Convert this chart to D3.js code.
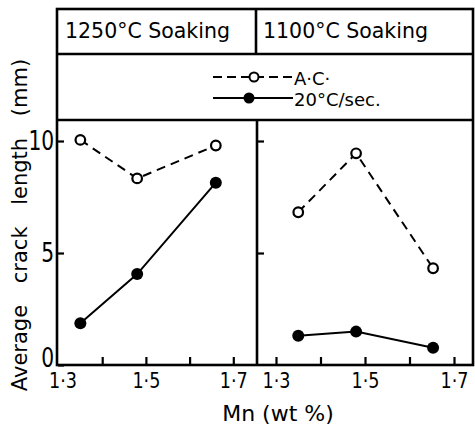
<!DOCTYPE html>
<html>
<head>
<meta charset="utf-8">
<script src="https://cdn.jsdelivr.net/npm/d3@7"></script>
<style>
  body { margin: 0; background: #fff; }
  text { font-family: "DejaVu Sans", sans-serif; fill: #000; }
</style>
</head>
<body>
<div id="chart"></div>
<script>
// values
const panels = ['1250°C Soaking', '1100°C Soaking']
const mn1250 = [1.35, 1.48, 1.66]
const ac1250 = [10.05, 8.33, 9.8]
const fast1250 = [1.86, 4.06, 8.14]
const mn1100 = [1.35, 1.48, 1.653]
const ac1100 = [6.82, 9.45, 4.32]
const fast1100 = [1.31, 1.49, 0.77]
const seriesNames = ['A·C·', '20°C/sec.']
const xTicks = [1.3, 1.4, 1.5, 1.6, 1.7]
const xLabelled = [1.3, 1.5, 1.7]
const yTicks = [0, 5, 10]

const W = 475, H = 425
const mLeft = 57, mid = 257, mRight = 473
const mTop = 9, headBottom = 54, legBottom = 120, mBottom = 365

const svg = d3.select('#chart').append('svg')
  .attr('width', W).attr('height', H)
  .style('background', 'white')

const y = d3.scaleLinear().domain([0, 10]).range([mBottom, 141])
const xL = d3.scaleLinear().domain([1.3, 1.7]).range([58.5, 233.3])
const xR = d3.scaleLinear().domain([1.3, 1.7]).range([276, 454])

const fmt = d => xLabelled.includes(d) ? d3.format('.1f')(d).replace('.', '·') : ''

// frame
const frame = svg.append('g').attr('fill', 'none').attr('stroke', '#000').attr('stroke-width', 2.6)
frame.append('rect').attr('x', mLeft).attr('y', mTop).attr('width', mRight - mLeft).attr('height', mBottom - mTop)
frame.append('line').attr('x1', mLeft).attr('x2', mRight).attr('y1', headBottom).attr('y2', headBottom)
frame.append('line').attr('x1', mLeft).attr('x2', mRight).attr('y1', legBottom).attr('y2', legBottom)
frame.append('line').attr('x1', mid - 1).attr('x2', mid - 1).attr('y1', mTop).attr('y2', headBottom)
frame.append('line').attr('x1', mid).attr('x2', mid).attr('y1', legBottom).attr('y2', mBottom)

// header
svg.append('text').attr('x', 65).attr('y', 38).style('font-size', '20.5px').text(panels[0])
svg.append('text').attr('x', 263).attr('y', 38).style('font-size', '20.5px').text(panels[1])

// legend
const leg = svg.append('g')
leg.append('line').attr('x1', 213).attr('x2', 293).attr('y1', 77).attr('y2', 77)
  .attr('stroke', '#000').attr('stroke-width', 2).attr('stroke-dasharray', '9,5')
leg.append('circle').attr('cx', 254).attr('cy', 77).attr('r', 4.5)
  .attr('fill', 'white').attr('stroke', '#000').attr('stroke-width', 2)
leg.append('text').attr('x', 294).attr('y', 85).style('font-size', '18px').text(seriesNames[0])
leg.append('line').attr('x1', 213).attr('x2', 293).attr('y1', 98).attr('y2', 98)
  .attr('stroke', '#000').attr('stroke-width', 2)
leg.append('circle').attr('cx', 249).attr('cy', 98).attr('r', 5.5).attr('fill', '#000')
leg.append('text').attr('x', 294).attr('y', 106).style('font-size', '18px').text(seriesNames[1])

// axes (tall, narrow digits like the original lettering)
function xAxis(scale) {
  const g = svg.append('g').attr('transform', `translate(0,${mBottom})`)
    .call(d3.axisBottom(scale).tickValues(xTicks).tickSize(-8).tickPadding(7).tickFormat(fmt))
  g.select('.domain').remove()
  g.selectAll('.tick line').attr('stroke', '#000').attr('stroke-width', 2.2)
  g.selectAll('.tick text').style('font-size', '22px').attr('transform', 'scale(0.8,1)')
  return g
}
const gxL = xAxis(xL)
gxL.selectAll('.tick').filter(d => d === 1.3).select('line').remove()
gxL.selectAll('.tick').filter(d => d === 1.3).select('text').attr('x', 5)
xAxis(xR)

const gy = svg.append('g').attr('transform', `translate(${mLeft + 1},0)`)
  .call(d3.axisLeft(y).tickValues(yTicks).tickSize(-6).tickPadding(5))
gy.select('.domain').remove()
gy.selectAll('.tick line').attr('stroke', '#000').attr('stroke-width', 2.2)
gy.selectAll('.tick text').style('font-size', '27px').attr('transform', 'scale(0.75,1)')
gy.selectAll('.tick').filter(d => d === 0).select('text').attr('dy', '0.05em')

const gy2 = svg.append('g').attr('transform', `translate(${mid},0)`)
  .call(d3.axisLeft(y).tickValues([5, 10]).tickSize(-7).tickFormat(''))
gy2.select('.domain').remove()
gy2.selectAll('.tick line').attr('stroke', '#000').attr('stroke-width', 2.2)

// axis titles
svg.append('text').attr('transform', 'translate(27,225) rotate(-90)')
  .attr('text-anchor', 'middle').style('font-size', '21px').style('word-spacing', '15px')
  .text('Average crack length (mm)')
svg.append('text').attr('x', 278).attr('y', 421).attr('text-anchor', 'middle')
  .style('font-size', '22px').text('Mn (wt %)')

// series
function series(xs, ys, scale, open) {
  const pts = xs.map((d, i) => [scale(d), y(ys[i])])
  svg.append('path').attr('d', d3.line()(pts)).attr('fill', 'none')
    .attr('stroke', '#000').attr('stroke-width', 2)
    .attr('stroke-dasharray', open ? '9,6' : null)
  svg.append('g').selectAll('circle').data(pts).join('circle')
    .attr('cx', d => d[0]).attr('cy', d => d[1])
    .attr('r', open ? 4.8 : 6)
    .attr('fill', open ? 'white' : '#000')
    .attr('stroke', '#000').attr('stroke-width', open ? 2.2 : 0)
}
series(mn1250, ac1250, xL, true)
series(mn1250, fast1250, xL, false)
series(mn1100, ac1100, xR, true)
series(mn1100, fast1100, xR, false)
</script>
</body>
</html>
